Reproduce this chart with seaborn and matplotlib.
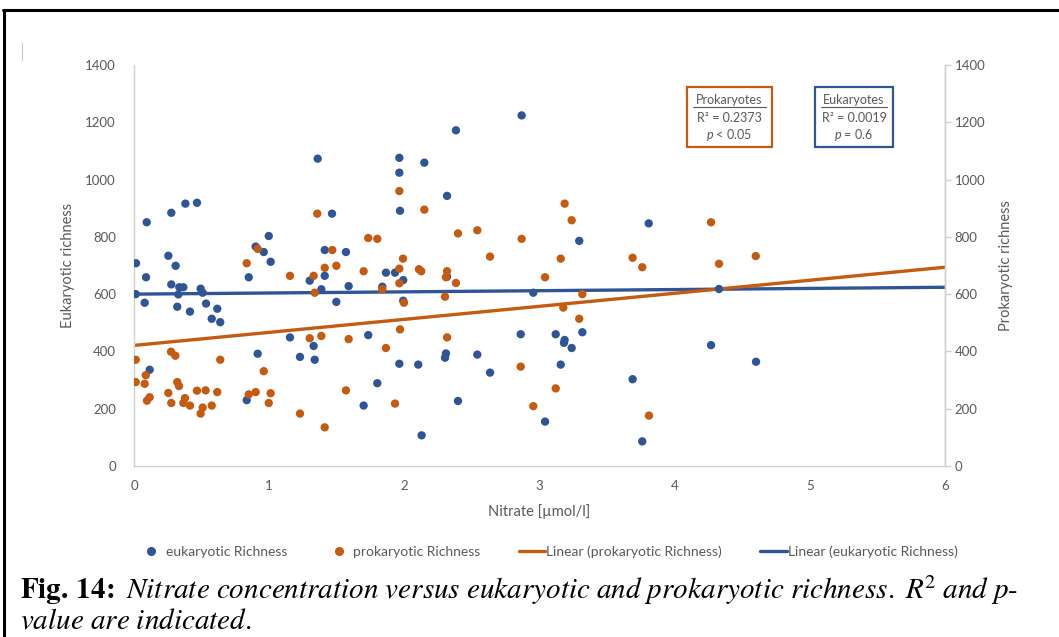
import numpy as np
import pandas as pd
import matplotlib
matplotlib.use("Agg")
import matplotlib.pyplot as plt
import seaborn as sns
from matplotlib.lines import Line2D
from matplotlib.patches import Rectangle

# ---- data -------------------------------------------------------------
nitrate_euk = [0.015, 0.094, 0.089, 0.013, 0.276, 0.380, 0.466, 0.254, 0.308, 0.276,
               0.335, 0.365, 0.328, 0.493, 0.508, 0.079, 0.320, 0.414, 0.533, 0.616,
               0.575, 0.638, 0.116, 1.359, 1.465, 0.997, 0.900, 0.960, 1.011, 0.849,
               1.300, 1.411, 1.411, 1.386, 1.497, 1.568, 1.588, 1.837, 1.963, 1.963,
               1.968, 1.864, 1.931, 1.992, 1.992, 0.915, 0.834, 1.154, 1.228, 1.329,
               1.337, 1.733, 1.800, 1.699, 1.963, 2.103, 2.128, 2.382, 2.868, 2.148,
               2.316, 2.316, 2.954, 3.294, 3.808, 2.861, 3.120, 3.186, 3.181, 3.317,
               3.238, 2.308, 2.301, 2.540, 2.634, 3.157, 2.397, 3.041, 3.689, 3.760,
               4.328, 4.269, 4.602]
euk_richness = [708, 851, 659, 600, 884, 916, 919, 734, 699, 634,
                624, 624, 599, 619, 605, 570, 556, 539, 567, 549,
                514, 502, 336, 1073, 881, 803, 766, 747, 713, 659,
                647, 754, 664, 617, 573, 747, 628, 626, 1076, 1024,
                891, 675, 675, 649, 577, 392, 230, 449, 381, 419,
                371, 457, 289, 211, 357, 354, 107, 1172, 1224, 1059,
                943, 661, 605, 786, 847, 460, 460, 440, 430, 467,
                412, 393, 378, 389, 326, 354, 227, 155, 303, 86,
                618, 422, 364]

nitrate_pro = [1.356, 0.915, 0.834, 1.154, 1.329, 1.467, 1.411, 1.497, 1.337, 1.733,
               1.800, 1.699, 1.837, 1.963, 1.990, 1.963, 1.963, 2.108, 1.997, 0.013,
               0.013, 0.087, 0.079, 0.096, 0.116, 0.274, 0.306, 0.320, 0.333, 0.254,
               0.276, 0.377, 0.365, 0.414, 0.466, 0.530, 0.508, 0.493, 0.575, 0.616,
               0.638, 0.960, 0.849, 0.900, 1.011, 0.997, 1.300, 1.386, 1.228, 1.411,
               1.588, 1.568, 1.864, 1.968, 1.931, 2.148, 2.397, 2.540, 2.868, 2.634,
               3.186, 3.238, 3.157, 3.041, 2.125, 2.316, 2.308, 2.382, 3.689, 3.760,
               3.317, 2.301, 3.176, 3.294, 2.316, 2.861, 3.120, 2.954, 3.810, 4.269,
               4.328, 4.600]
pro_richness = [881, 758, 708, 664, 664, 754, 692, 699, 605, 796,
                793, 680, 617, 960, 724, 689, 638, 687, 570, 371,
                293, 317, 287, 228, 240, 399, 385, 293, 279, 255,
                220, 237, 220, 211, 263, 264, 204, 183, 211, 258,
                371, 331, 250, 258, 254, 220, 446, 454, 183, 135,
                443, 264, 412, 477, 218, 895, 812, 823, 793, 731,
                916, 858, 724, 659, 680, 680, 659, 639, 727, 694,
                600, 591, 553, 514, 449, 347, 271, 209, 176, 851,
                706, 733]

# linear trend lines (intercept, slope) of the published fits
euk_trend = (600.0, 4.0)
pro_trend = (421.0, 45.5)

x_ticks = [0, 1, 2, 3, 4, 5, 6]
y_ticks = [0, 200, 400, 600, 800, 1000, 1200, 1400]
x_range = [0.0, 6.0]

euk = pd.DataFrame({"nitrate": nitrate_euk, "richness": euk_richness})
pro = pd.DataFrame({"nitrate": nitrate_pro, "richness": pro_richness})


def trend_frame(coef):
    xs = np.array(x_range)
    return pd.DataFrame({"nitrate": xs, "richness": coef[0] + coef[1] * xs})


BLUE = "#2F5597"
ORANGE = "#C55A11"
GREY_TXT = "#595959"
GREY_AX = "#D0D0D0"

# ---- style ------------------------------------------------------------
sns.set_theme(style="white")
plt.rcParams["font.family"] = ["Lato", "DejaVu Sans"]
plt.rcParams["mathtext.fontset"] = "custom"
plt.rcParams["mathtext.rm"] = "Lato"
plt.rcParams["mathtext.it"] = "Lato:italic"

W, H = 1059, 637
fig = plt.figure(figsize=(W / 100, H / 100), dpi=100)
fig.patch.set_facecolor("white")


def fx(x):
    return x / W


def fy(y):
    return 1 - y / H


ax = fig.add_axes([fx(134), fy(466), (945 - 134) / W, (466 - 65) / H])

# trend lines
sns.lineplot(data=trend_frame(euk_trend), x="nitrate", y="richness", ax=ax,
             color=BLUE, lw=2.4, zorder=2)
sns.lineplot(data=trend_frame(pro_trend), x="nitrate", y="richness", ax=ax,
             color=ORANGE, lw=2.4, zorder=2)

# scatter points
sns.scatterplot(data=euk, x="nitrate", y="richness", ax=ax, color=BLUE, s=36,
                edgecolor="none", zorder=3, legend=False)
sns.scatterplot(data=pro, x="nitrate", y="richness", ax=ax, color=ORANGE, s=36,
                edgecolor="none", zorder=4, legend=False)

ax.set_xlim(*x_range)
ax.set_ylim(0, 1400)
ax.set_xticks(x_ticks)
ax.set_yticks(y_ticks)
ax.tick_params(axis="both", length=0, labelsize=9.5, labelcolor=GREY_TXT)
ax.tick_params(axis="x", pad=10)
ax.tick_params(axis="y", pad=13)
ax.set_xlabel("Nitrate [µmol/l]", fontsize=10.5, color=GREY_TXT, labelpad=9)
ax.set_ylabel("Eukaryotic richness", fontsize=10.5, color=GREY_TXT, labelpad=7)
for side in ["left", "bottom", "right"]:
    ax.spines[side].set_color(GREY_AX)
    ax.spines[side].set_linewidth(1.0)
ax.spines["top"].set_visible(False)

# secondary axis on the right with the same scale
ax2 = ax.twinx()
ax2.set_ylim(0, 1400)
ax2.set_yticks(y_ticks)
ax2.tick_params(axis="y", length=4, width=1, color=GREY_AX, labelsize=9.5,
                labelcolor=GREY_TXT, pad=3)
ax2.set_ylabel("Prokaryotic richness", fontsize=10.5, color=GREY_TXT, labelpad=10)
for side in ["left", "bottom", "top"]:
    ax2.spines[side].set_visible(False)
ax2.spines["right"].set_color(GREY_AX)
ax2.spines["right"].set_linewidth(1.0)

# statistics boxes
boxes = [
    (687, 772, ORANGE, "Prokaryotes", "R² = 0.2373", "$p$ < 0.05", (693, 766)),
    (815, 893, BLUE, "Eukaryotes", "R² = 0.0019", "$p$ = 0.6", (821, 887)),
]
for x0, x1, col, title, r2, pv, ul in boxes:
    fig.add_artist(Rectangle((fx(x0), fy(147)), (x1 - x0) / W, 60 / H,
                             transform=fig.transFigure, facecolor="white",
                             edgecolor=col, lw=1.6, zorder=5))
    xc = fx((x0 + x1) / 2)
    for txt, yy in [(title, 100), (r2, 117.5), (pv, 135)]:
        fig.text(xc, fy(yy), txt, ha="center", va="center", fontsize=9,
                 color=GREY_TXT, zorder=6)
    fig.add_artist(Line2D([fx(ul[0]), fx(ul[1])], [fy(107), fy(107)],
                          transform=fig.transFigure, color=GREY_TXT, lw=0.8,
                          zorder=6))

# legend below the plot
handles = [
    Line2D([], [], ls="none", marker="o", ms=5.5, color=BLUE),
    Line2D([], [], ls="none", marker="o", ms=5.5, color=ORANGE),
    Line2D([], [], color=ORANGE, lw=2.4),
    Line2D([], [], color=BLUE, lw=2.4),
]
labels = ["eukaryotic Richness", "prokaryotic Richness",
          "Linear (prokaryotic Richness)", "Linear (eukaryotic Richness)"]
leg = fig.legend(handles, labels, loc="center", bbox_to_anchor=(fx(548), fy(552)),
                 ncol=4, frameon=False, fontsize=10, handlelength=1.9,
                 handletextpad=0.1, columnspacing=2.75)
for t in leg.get_texts():
    t.set_color(GREY_TXT)

# caption
fig.text(fx(20), fy(590),
         r"$\mathbf{Fig.\!\ 14\!:}$ $\mathit{Nitrate\ concentration\ versus\ eukaryotic\ and\ "
         r"prokaryotic\ richness.\ R^{\!2}\ and\ p}$-",
         ha="left", va="center", fontsize=21, math_fontfamily="stix",
         family="STIXGeneral", color="black")
fig.text(fx(20), fy(622), r"$\mathit{value\ are\ indicated.}$",
         ha="left", va="center", fontsize=21, math_fontfamily="stix",
         family="STIXGeneral", color="black")

# page frame
fig.add_artist(Line2D([fx(3), fx(W)], [fy(10), fy(10)], transform=fig.transFigure,
                      color="black", lw=2.2))
fig.add_artist(Line2D([fx(3.5), fx(3.5)], [fy(10), fy(H)], transform=fig.transFigure,
                      color="black", lw=2.2))
fig.add_artist(Line2D([fx(22), fx(22)], [fy(43), fy(60)], transform=fig.transFigure,
                      color="#C8C8C8", lw=0.8))

fig.savefig("out.png", dpi=100, facecolor="white")
